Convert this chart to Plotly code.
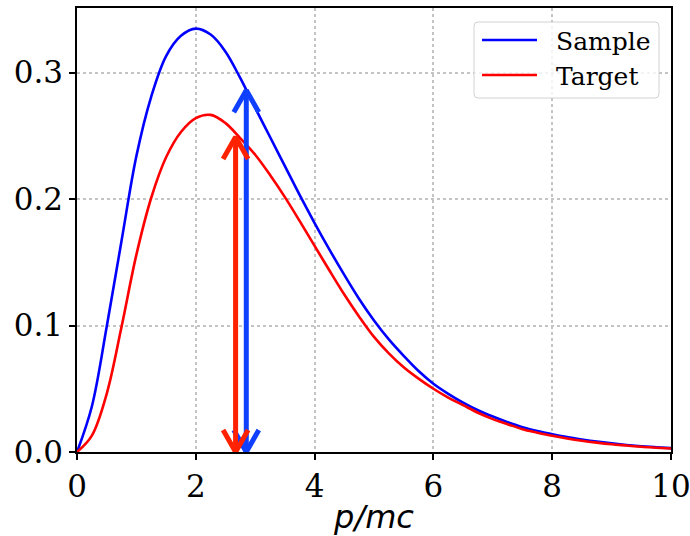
import plotly.graph_objects as go

# ---- data ----
p_vals = [0, 0.25, 0.5, 0.75, 1.0, 1.25, 1.5, 1.75, 2.0, 2.25, 2.5, 2.75, 3.0,
          3.25, 3.5, 3.75, 4.0, 4.25, 4.5, 4.75, 5.0, 5.25, 5.5, 5.75, 6.0,
          6.25, 6.5, 6.75, 7.0, 7.25, 7.5, 7.75, 8.0, 8.25, 8.5, 8.75, 9.0, 9.25, 9.5, 9.75, 10.0]
sample_vals = [0, 0.036, 0.099, 0.167, 0.234, 0.281, 0.313, 0.329, 0.3347, 0.330, 0.3165,
               0.2955, 0.272, 0.249, 0.226, 0.203, 0.181, 0.160, 0.140, 0.121, 0.104, 0.089,
               0.076, 0.064, 0.054, 0.046, 0.039, 0.033, 0.028, 0.0235, 0.0196, 0.0166, 0.0141,
               0.0118, 0.0099, 0.0082, 0.0068, 0.0056, 0.0046, 0.0038, 0.0031]
target_vals = [0, 0.013, 0.046, 0.099, 0.156, 0.201, 0.233, 0.253, 0.264, 0.2665, 0.260,
               0.248, 0.235, 0.219, 0.2015, 0.1825, 0.163, 0.1435, 0.1245, 0.107, 0.091, 0.078,
               0.067, 0.058, 0.050, 0.043, 0.037, 0.031, 0.026, 0.022, 0.018, 0.0153, 0.0128,
               0.0107, 0.0089, 0.0074, 0.0061, 0.0051, 0.0041, 0.0034, 0.0028]
series_names = ["Sample", "Target"]
series_colors = ["#0000ff", "#ff0000"]

arrow_x = [2.85, 2.67]
arrow_top = [0.286, 0.249]
arrow_colors = ["#1040ff", "#ff2200"]

x_ticks = [0, 2, 4, 6, 8, 10]
y_ticks = [0.0, 0.1, 0.2, 0.3]

XR = [0, 10]
YR = [0, 0.351]

W, H = 690, 536
ml, mr, mt, mb = 77, 19, 8, 84
pw, ph = W - ml - mr, H - mt - mb

fig = go.Figure()
for vals, name, col in zip([sample_vals, target_vals], series_names, series_colors):
    fig.add_trace(go.Scatter(x=p_vals, y=vals, mode="lines", name=name, showlegend=False,
                             line=dict(color=col, width=2.6, shape="spline", smoothing=1.0)))

# double-headed arrows (chevron heads, size relative to axis scale)
dx = 12.5 * (XR[1] - XR[0]) / pw
dy = 22 * (YR[1] - YR[0]) / ph
for ax_, top, col in zip(arrow_x, arrow_top, arrow_colors):
    xs = [ax_, ax_, None, ax_ - dx, ax_, ax_ + dx, None, ax_ - dx, ax_, ax_ + dx]
    ys = [0, top, None, top - dy, top, top - dy, None, dy, 0, dy]
    fig.add_trace(go.Scatter(x=xs, y=ys, mode="lines", showlegend=False, hoverinfo="skip",
                             line=dict(color=col, width=5)))

# ---- custom legend (matplotlib style) in paper coordinates ----
def px2x(px):
    return (px - ml) / pw

def py2y(py):
    return 1 - (py - mt) / ph

shapes = []
annotations = []
bx0, bx1, by0, by1, r = 474, 659, 22, 98, 4
path = (f"M{px2x(bx0 + r)},{py2y(by0)} L{px2x(bx1 - r)},{py2y(by0)} "
        f"Q{px2x(bx1)},{py2y(by0)} {px2x(bx1)},{py2y(by0 + r)} "
        f"L{px2x(bx1)},{py2y(by1 - r)} Q{px2x(bx1)},{py2y(by1)} {px2x(bx1 - r)},{py2y(by1)} "
        f"L{px2x(bx0 + r)},{py2y(by1)} Q{px2x(bx0)},{py2y(by1)} {px2x(bx0)},{py2y(by1 - r)} "
        f"L{px2x(bx0)},{py2y(by0 + r)} Q{px2x(bx0)},{py2y(by0)} {px2x(bx0 + r)},{py2y(by0)} Z")
shapes.append(dict(type="path", xref="paper", yref="paper", path=path,
                   fillcolor="rgba(255,255,255,0.8)", line=dict(color="#d2d2d2", width=1),
                   layer="above"))
row_y = [40, 75]
for name, col, ry in zip(series_names, series_colors, row_y):
    shapes.append(dict(type="line", xref="paper", yref="paper",
                       x0=px2x(482), x1=px2x(537), y0=py2y(ry), y1=py2y(ry),
                       line=dict(color=col, width=2.6), layer="above"))
    annotations.append(dict(xref="paper", yref="paper", x=px2x(554), y=py2y(ry + 1),
                            xanchor="left", yanchor="middle", showarrow=False, text=name,
                            font=dict(family="DejaVu Serif", size=25, color="black")))

axis_common = dict(showline=True, linecolor="black", linewidth=1.5, mirror=True,
                   ticks="outside", ticklen=6, tickwidth=1.5, tickcolor="black",
                   showgrid=True, gridcolor="#c4c4c4", gridwidth=2, griddash="dot",
                   zeroline=False, automargin=False, ticklabeloverflow="allow",
                   tickfont=dict(family="DejaVu Serif", size=31, color="black"))

fig.update_layout(
    width=W, height=H,
    margin=dict(l=ml, r=mr, t=mt, b=mb),
    paper_bgcolor="white", plot_bgcolor="white",
    xaxis=dict(range=XR, tickvals=x_ticks, ticktext=[str(v) for v in x_ticks],
               title=dict(text="<i>p/mc</i>", font=dict(family="DejaVu Sans", size=32, color="black"),
                          standoff=6),
               **axis_common),
    yaxis=dict(range=YR, tickvals=y_ticks, ticktext=[f"{v:.1f}" for v in y_ticks],
               **axis_common),
    shapes=shapes,
    annotations=annotations,
    showlegend=False,
)

fig.write_html("out.html")
